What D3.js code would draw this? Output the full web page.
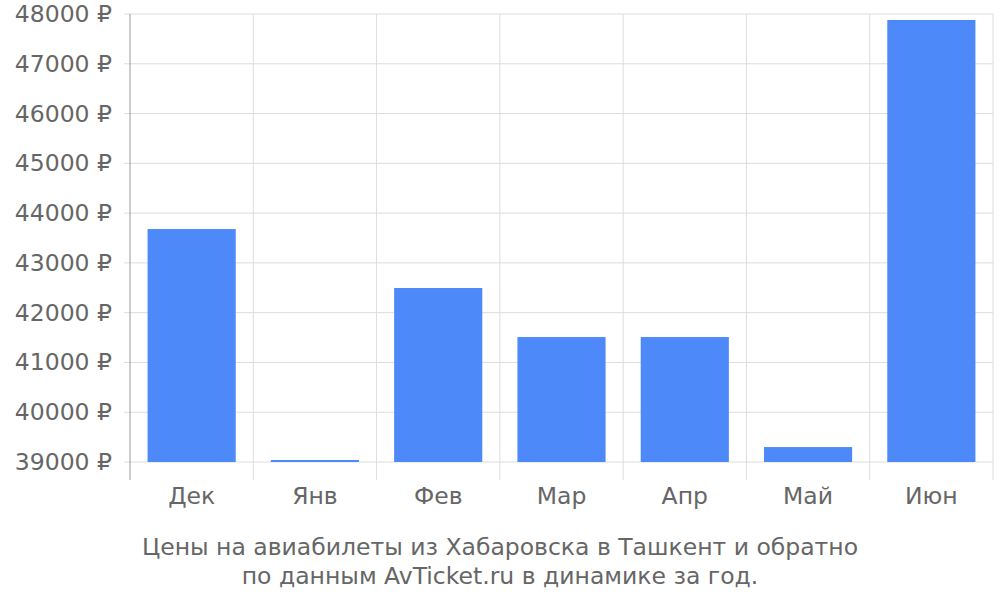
<!DOCTYPE html>
<html><head><meta charset="utf-8">
<script src="https://cdn.jsdelivr.net/npm/d3@7"></script>
<style>body{margin:0;background:#fff}text{font-family:"DejaVu Sans";fill:#666}</style>
</head><body><div id="chart"></div>
<script>
var months = ['Дек', 'Янв', 'Фев', 'Мар', 'Апр', 'Май', 'Июн'];
var prices = [43680, 39040, 42495, 41510, 41510, 39300, 47880];
var yTicks = [39000, 40000, 41000, 42000, 43000, 44000, 45000, 46000, 47000, 48000];
var titleLines = ['Цены на авиабилеты из Хабаровска в Ташкент и обратно', 'по данным AvTicket.ru в динамике за год.'];

var plotLeft = 130, plotRight = 993, plotTop = 14, plotBottom = 462, axisBottom = 480;
var fontSize = '23.5px';

var svg = d3.select('#chart').append('svg').attr('width', 1000).attr('height', 600);
var x = d3.scaleBand().domain(months).range([plotLeft, plotRight]).paddingInner(0.285).paddingOuter(0.1425);
var y = d3.scaleLinear().domain([39000, 48000]).range([plotBottom, plotTop]);

// horizontal grid
svg.selectAll('.hg').data(yTicks).enter().append('line')
    .attr('x1', plotLeft - 6).attr('x2', plotRight)
    .attr('y1', function (d) { return y(d); }).attr('y2', function (d) { return y(d); })
    .style('stroke', '#ddd').style('stroke-width', 1);

// vertical grid at band edges
var edges = months.map(function (m, i) { return plotLeft + i * (plotRight - plotLeft) / months.length; });
edges.push(plotRight);
svg.selectAll('.vg').data(edges).enter().append('line')
    .attr('x1', function (d) { return d; }).attr('x2', function (d) { return d; })
    .attr('y1', plotTop).attr('y2', axisBottom)
    .style('stroke', function (d, i) { return i == 0 ? '#999' : '#ddd'; }).style('stroke-width', 1);

svg.selectAll('.bar').data(prices).enter().append('rect')
    .attr('x', function (d, i) { return x(months[i]); })
    .attr('y', function (d) { return y(d); })
    .attr('width', x.bandwidth())
    .attr('height', function (d) { return plotBottom - y(d); })
    .style('fill', '#4d89f9');

svg.selectAll('.yl').data(yTicks).enter().append('text')
    .attr('x', 112).attr('y', function (d) { return y(d) + 8; })
    .attr('text-anchor', 'end').style('font-size', fontSize)
    .text(function (d) { return d + ' ₽'; });

svg.selectAll('.xl').data(months).enter().append('text')
    .attr('x', function (d) { return x(d) + x.bandwidth() / 2; }).attr('y', 504)
    .attr('text-anchor', 'middle').style('font-size', fontSize)
    .text(function (d) { return d; });

svg.selectAll('.tl').data(titleLines).enter().append('text')
    .attr('x', 500).attr('y', function (d, i) { return 555 + i * 29; })
    .attr('text-anchor', 'middle').style('font-size', fontSize)
    .text(function (d) { return d; });
</script></body></html>
